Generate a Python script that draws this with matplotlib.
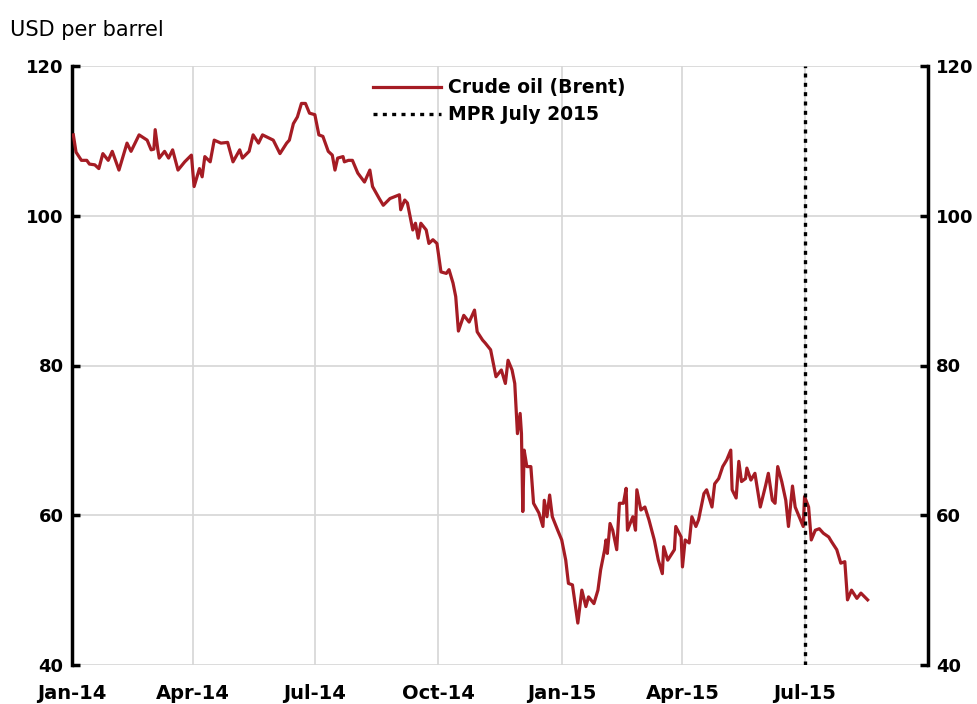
import numpy as np
import pandas as pd
import matplotlib
matplotlib.use("Agg")
import matplotlib.pyplot as plt
import matplotlib.dates as mdates

# Brent crude: days since 1 Jan 2014 and USD per barrel
day = [1, 3, 7, 11, 13, 17, 20, 23, 27, 30, 35, 41, 44, 50, 56, 59, 61, 62, 64, 65,
       69, 72, 75, 79, 84, 89, 91, 95, 97, 99, 103, 106, 111, 116, 120, 125, 127, 132, 135, 139,
       142, 150, 155, 160, 162, 165, 168, 171, 174, 177, 181, 184, 187, 191, 194, 196, 198, 202, 203, 206,
       209, 213, 218, 222, 224, 229, 232, 237, 244, 245, 248, 250, 254, 256, 258, 260, 264, 266, 269, 272,
       275, 279, 281, 284, 286, 288, 292, 296, 300, 302, 306, 308, 312, 316, 320, 323, 325, 328, 330, 332,
       334, 335, 336, 337, 339, 342, 344, 348, 351, 352, 354, 356, 358, 362, 365, 368, 370, 373, 375, 377,
       380, 383, 385, 389, 392, 394, 397, 398, 399, 401, 403, 406, 408, 411, 413, 414, 418, 420, 421, 424,
       427, 430, 434, 437, 440, 441, 444, 449, 450, 454, 455, 457, 460, 462, 465, 467, 471, 473, 477, 479,
       482, 485, 488, 491, 492, 495, 497, 499, 502, 503, 506, 509, 513, 517, 519, 522, 524, 526, 529, 532,
       534, 537, 539, 542, 545, 546, 549, 551, 554, 557, 560, 564, 566, 570, 573, 576, 578, 581, 585, 588,
       593]
brent = [110.8, 108.5, 107.4, 107.4, 106.9, 106.8, 106.3, 108.3, 107.4, 108.6, 106.1, 109.7, 108.6, 110.8, 110.1, 108.8, 108.9, 111.5, 108.8, 107.7,
         108.6, 107.7, 108.8, 106.1, 107.2, 108.1, 103.9, 106.3, 105.2, 107.9, 107.2, 110.1, 109.7, 109.8, 107.2, 108.8, 107.7, 108.6, 110.8, 109.7,
         110.8, 110.1, 108.3, 109.7, 110.1, 112.3, 113.2, 115.0, 115.0, 113.7, 113.5, 110.8, 110.6, 108.6, 108.1, 106.1, 107.7, 107.9, 107.2, 107.4,
         107.4, 105.7, 104.5, 106.1, 103.9, 102.3, 101.4, 102.3, 102.8, 100.8, 102.1, 101.7, 98.1, 99.0, 97.0, 99.0, 98.1, 96.3, 96.8, 96.3,
         92.5, 92.3, 92.8, 91.0, 89.2, 84.6, 86.7, 85.8, 87.4, 84.5, 83.4, 83.0, 82.1, 78.5, 79.4, 77.6, 80.7, 79.4, 77.6, 70.9,
         73.6, 70.9, 60.5, 68.7, 66.5, 66.5, 61.6, 60.3, 58.5, 62.0, 59.8, 62.7, 59.8, 58.0, 56.7, 54.0, 50.9, 50.7, 48.2, 45.6,
         50.0, 47.8, 49.1, 48.2, 50.0, 52.7, 55.4, 56.7, 54.9, 58.9, 58.0, 55.4, 61.6, 61.6, 63.6, 58.0, 59.8, 58.0, 63.4, 60.7,
         61.1, 59.4, 56.7, 54.0, 52.2, 55.8, 54.0, 55.4, 58.5, 57.1, 53.1, 56.7, 56.3, 59.8, 58.5, 59.4, 62.9, 63.4, 61.1, 64.2,
         64.9, 66.5, 67.4, 68.7, 63.4, 62.3, 67.2, 64.5, 64.9, 66.3, 64.7, 65.6, 61.1, 64.0, 65.6, 62.0, 61.6, 66.5, 64.5, 62.0,
         58.5, 63.9, 61.1, 59.8, 58.5, 62.5, 61.1, 56.7, 58.0, 58.2, 57.6, 57.1, 56.5, 55.4, 53.6, 53.8, 48.7, 50.0, 48.9, 49.6,
         48.7]

mpr_date = "2015-07-01"
tick_dates = ["2014-01-01", "2014-04-01", "2014-07-01", "2014-10-01",
              "2015-01-01", "2015-04-01", "2015-07-01"]

dates = pd.Timestamp("2014-01-01") + pd.to_timedelta(day, unit="D")

fig = plt.figure(figsize=(9.77, 7.04), dpi=100)
ax = fig.add_axes([72 / 977, 39 / 704, 856 / 977, 599 / 704])

ax.plot(dates, brent, color="#a51c24", lw=2.3, label="Crude oil (Brent)", zorder=3)
ax.axvline(pd.Timestamp(mpr_date), color="black", lw=2.4, ls=(0, (1.2, 1.6)),
           label="MPR July 2015", zorder=4)

ax.set_xlim(pd.Timestamp("2014-01-01"), pd.Timestamp("2015-10-01"))
ax.set_ylim(40, 120)
ax.set_yticks([40, 60, 80, 100, 120])
ax.set_xticks(pd.to_datetime(tick_dates))
ax.xaxis.set_major_formatter(mdates.DateFormatter("%b-%y"))

ax.grid(True, color="#d6d6d6", lw=1.2)
ax.set_axisbelow(True)
for s in ["top", "bottom"]:
    ax.spines[s].set_visible(False)
for s in ["left", "right"]:
    ax.spines[s].set_linewidth(2.5)

ax.tick_params(axis="y", direction="in", length=6, width=2.5, pad=6,
               left=True, right=True, labelleft=True, labelright=True, labelsize=13)
ax.tick_params(axis="x", length=0, pad=14, labelsize=14)
for lab in ax.get_xticklabels() + ax.get_yticklabels():
    lab.set_fontweight("bold")

leg = ax.legend(loc="upper left", bbox_to_anchor=(0.343, 0.992), frameon=False,
                prop={"weight": "bold", "size": 13.5}, handlelength=3.6,
                handletextpad=0.4, labelspacing=0.42, borderaxespad=0)

fig.text(10 / 977, 1 - 36 / 704, "USD per barrel", fontsize=15)

plt.savefig("out.png", dpi=100)
